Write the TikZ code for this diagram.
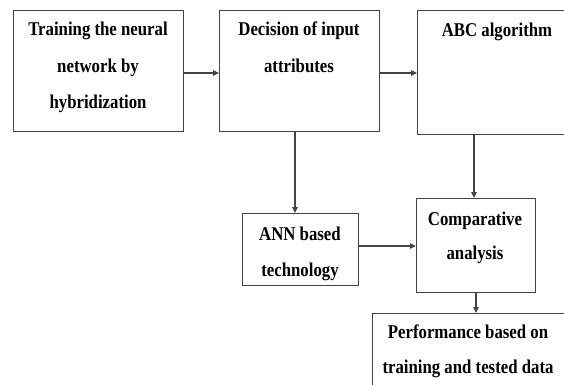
\documentclass[tikz,border=0pt]{standalone}
\usepackage{fontspec}
\setmainfont{Liberation Serif}[FakeStretch=0.86]
\usetikzlibrary{arrows.meta}
\definecolor{linec}{HTML}{444444}
\tikzset{
  box/.style={draw=linec, line width=1.1pt, rectangle, inner sep=0pt, anchor=north west},
  txt/.style={anchor=base, inner sep=0pt, font=\fontsize{19.5}{22}\selectfont\bfseries, text=black},
  conn/.style={draw=linec, line width=1.1pt, -{Triangle[length=6pt,width=5.5pt]}}
}
\begin{document}
\begin{tikzpicture}[x=1pt,y=-1pt]
\useasboundingbox[fill=white] (0,0) rectangle (564,384);
\clip (0,0) rectangle (564,384);
% boxes
\node[box, minimum width=170pt, minimum height=121pt] (b1) at (13,10) {};
\node[box, minimum width=160pt, minimum height=121pt] (b2) at (219,10) {};
\node[box, minimum width=160pt, minimum height=124pt] (b3) at (417,10) {};
\node[box, minimum width=116pt, minimum height=72pt] (b4) at (242,213) {};
\node[box, minimum width=119pt, minimum height=94pt] (b5) at (416,198) {};
\node[box, minimum width=192pt, minimum height=90pt] (b6) at (372,313) {};
% texts
\node[txt] (t11) at (98,35) {Training the neural};
\node[txt] (t12) at (98,72) {network by};
\node[txt] (t13) at (98,108) {hybridization};
\node[txt] (t21) at (299,35) {Decision of input};
\node[txt] (t22) at (299,72) {attributes};
\node[txt] (t31) at (497,36) {ABC algorithm};
\node[txt] (t41) at (300,240) {ANN based};
\node[txt] (t42) at (300,276) {technology};
\node[txt] (t51) at (475,225) {Comparative};
\node[txt] (t52) at (475,259) {analysis};
\node[txt] (t61) at (468,338) {Performance based on};
\node[txt] (t62) at (468,373) {training and tested data};
% connectors
\draw[conn] (b1.east |- 0,73) -- (b2.west |- 0,73);
\draw[conn] (b2.east |- 0,73) -- (b3.west |- 0,73);
\draw[conn] (b2.south -| 295,0) -- (b4.north -| 295,0);
\draw[conn] (b3.south -| 474,0) -- (b5.north -| 474,0);
\draw[conn] (b4.east |- 0,246) -- (b5.west |- 0,246);
\draw[conn] (b5.south -| 476,0) -- (b6.north -| 476,0);
\end{tikzpicture}
\end{document}
